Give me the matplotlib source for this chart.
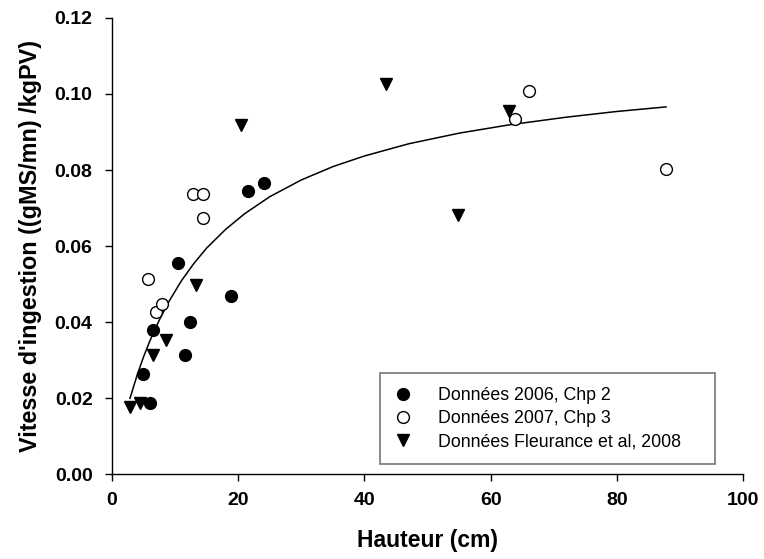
import numpy as np
from matplotlib import pyplot as plt

plt.rcParams['font.family'] = ['Liberation Sans', 'DejaVu Sans']

# Données 2006, Chp 2 (ronds pleins)
x_2006 = [4.96, 6.0, 6.55, 10.5, 11.6, 12.4, 18.9, 21.5, 24.1]
y_2006 = [0.0263, 0.0187, 0.0379, 0.0555, 0.0313, 0.0400, 0.0470, 0.0745, 0.0765]

# Données 2007, Chp 3 (ronds vides)
x_2007 = [5.65, 6.97, 7.98, 12.9, 14.5, 14.5, 63.8, 66.1, 87.8]
y_2007 = [0.0513, 0.0427, 0.0448, 0.0736, 0.0736, 0.0674, 0.0934, 0.1008, 0.0804]

# Données Fleurance et al, 2008 (triangles)
x_fl = [2.85, 4.5, 6.55, 8.5, 13.3, 20.4, 43.4, 54.8, 62.9]
y_fl = [0.0176, 0.0187, 0.0313, 0.0353, 0.0498, 0.0918, 0.1026, 0.0682, 0.0956]

# courbe ajustée
x_fit = [2.85, 4, 5, 6, 7.5, 9, 11, 13, 15, 18, 21, 25, 30, 35, 40, 47, 55, 63, 72, 80, 87.8]
y_fit = [0.0200, 0.0262, 0.0309, 0.0351, 0.0406, 0.0454, 0.0509, 0.0555, 0.0595, 0.0644,
         0.0685, 0.0730, 0.0774, 0.0809, 0.0837, 0.0869, 0.0897, 0.0919, 0.0939, 0.0954, 0.0966]

fig = plt.figure(figsize=(7.64, 5.59), dpi=100)
ax = fig.add_axes([0.1466, 0.1513, 0.8259, 0.8167])

ax.plot(x_fit, y_fit, color='black', lw=1.1, zorder=2)
ax.plot(x_2006, y_2006, 'o', ms=8.5, mfc='black', mec='black', ls='none',
        label='Données 2006, Chp 2', zorder=3)
ax.plot(x_2007, y_2007, 'o', ms=8.5, mfc='white', mec='black', mew=1.0, ls='none',
        label='Données 2007, Chp 3', zorder=3)
ax.plot(x_fl, y_fl, 'v', ms=9, mfc='black', mec='black', ls='none',
        label='Données Fleurance et al, 2008', zorder=3)

ax.set_xlim(0, 100)
ax.set_ylim(0, 0.12)
ax.set_xticks(np.arange(0, 101, 20))
ax.set_yticks(np.arange(0, 0.121, 0.02))
ax.set_yticklabels([f'{v:.2f}' for v in np.arange(0, 0.121, 0.02)])

for s in ['top', 'right']:
    ax.spines[s].set_visible(False)
for s in ['left', 'bottom']:
    ax.spines[s].set_linewidth(1.0)

ax.tick_params(direction='out', length=5, width=1.0, labelsize=14)
ax.tick_params(axis='y', pad=9)
ax.tick_params(axis='x', pad=8)
for lab in ax.get_xticklabels() + ax.get_yticklabels():
    lab.set_fontweight('bold')

ax.set_xlabel('Hauteur (cm)', fontsize=16.5, fontweight='bold', labelpad=14)
ax.set_ylabel("Vitesse d'ingestion ((gMS/mn) /kgPV)", fontsize=16.8, fontweight='bold', labelpad=9)

leg = ax.legend(loc='lower left', bbox_to_anchor=(0.425, 0.022, 0.531, 0.15), borderaxespad=0,
                mode='expand', fontsize=12.8, frameon=True, fancybox=False, handlelength=1.0,
                handletextpad=1.45, borderpad=0.8, labelspacing=0.33)
leg.get_frame().set_edgecolor('#555555')
leg.get_frame().set_linewidth(1.2)

fig.savefig('out.png', dpi=100)
